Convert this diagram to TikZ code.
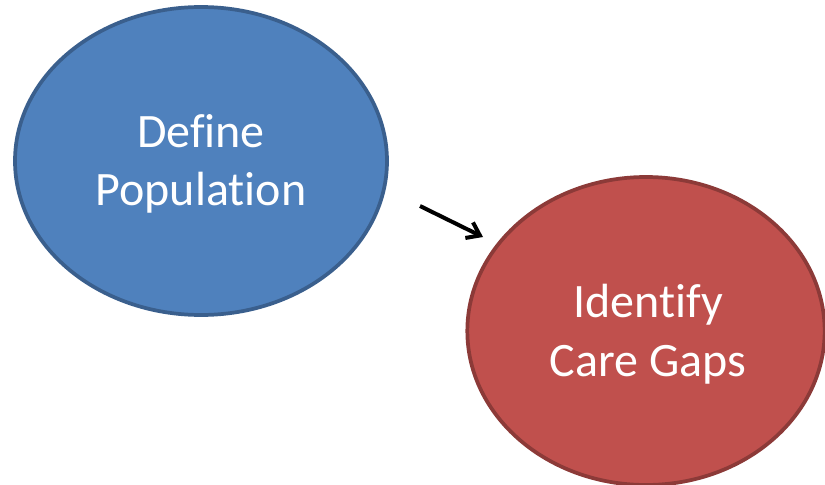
\documentclass[tikz,border=0pt]{standalone}
\usepackage{fontspec}
\setmainfont[RawFeature={-liga}]{Carlito}
\usetikzlibrary{shapes.geometric,arrows.meta}
\definecolor{bluefill}{HTML}{4F81BD}
\definecolor{blueline}{HTML}{3A5F8D}
\definecolor{redfill}{HTML}{C0504D}
\definecolor{redline}{HTML}{8C3A38}
\tikzset{
  bubble/.style={ellipse, line width=2.8pt, minimum width=279pt, minimum height=231pt,
    text=white, align=center, font=\fontsize{36}{44}\selectfont},
}
\begin{document}
\begin{tikzpicture}[x=0.75pt,y=-0.75pt]

\useasboundingbox (0,0) rectangle (825,485);

\node[bubble, fill=bluefill, draw=blueline] (define) at (201,161) {};
\node[text=white, align=center, font=\fontsize{36}{44}\selectfont] (definetext) at (201,164) {Define\\Population};
\node[bubble, fill=redfill, draw=redline, minimum width=268pt] (gaps) at (646,331) {};
\node[text=white, align=center, font=\fontsize{36}{44}\selectfont] (gapstext) at (648,334) {Identify\\Care Gaps};

\coordinate (from) at (420,206);
\coordinate (to) at (483,237);
\draw[line width=3pt, -{Straight Barb[length=9pt,width=13pt]}] (from) -- (to);

\end{tikzpicture}
\end{document}
